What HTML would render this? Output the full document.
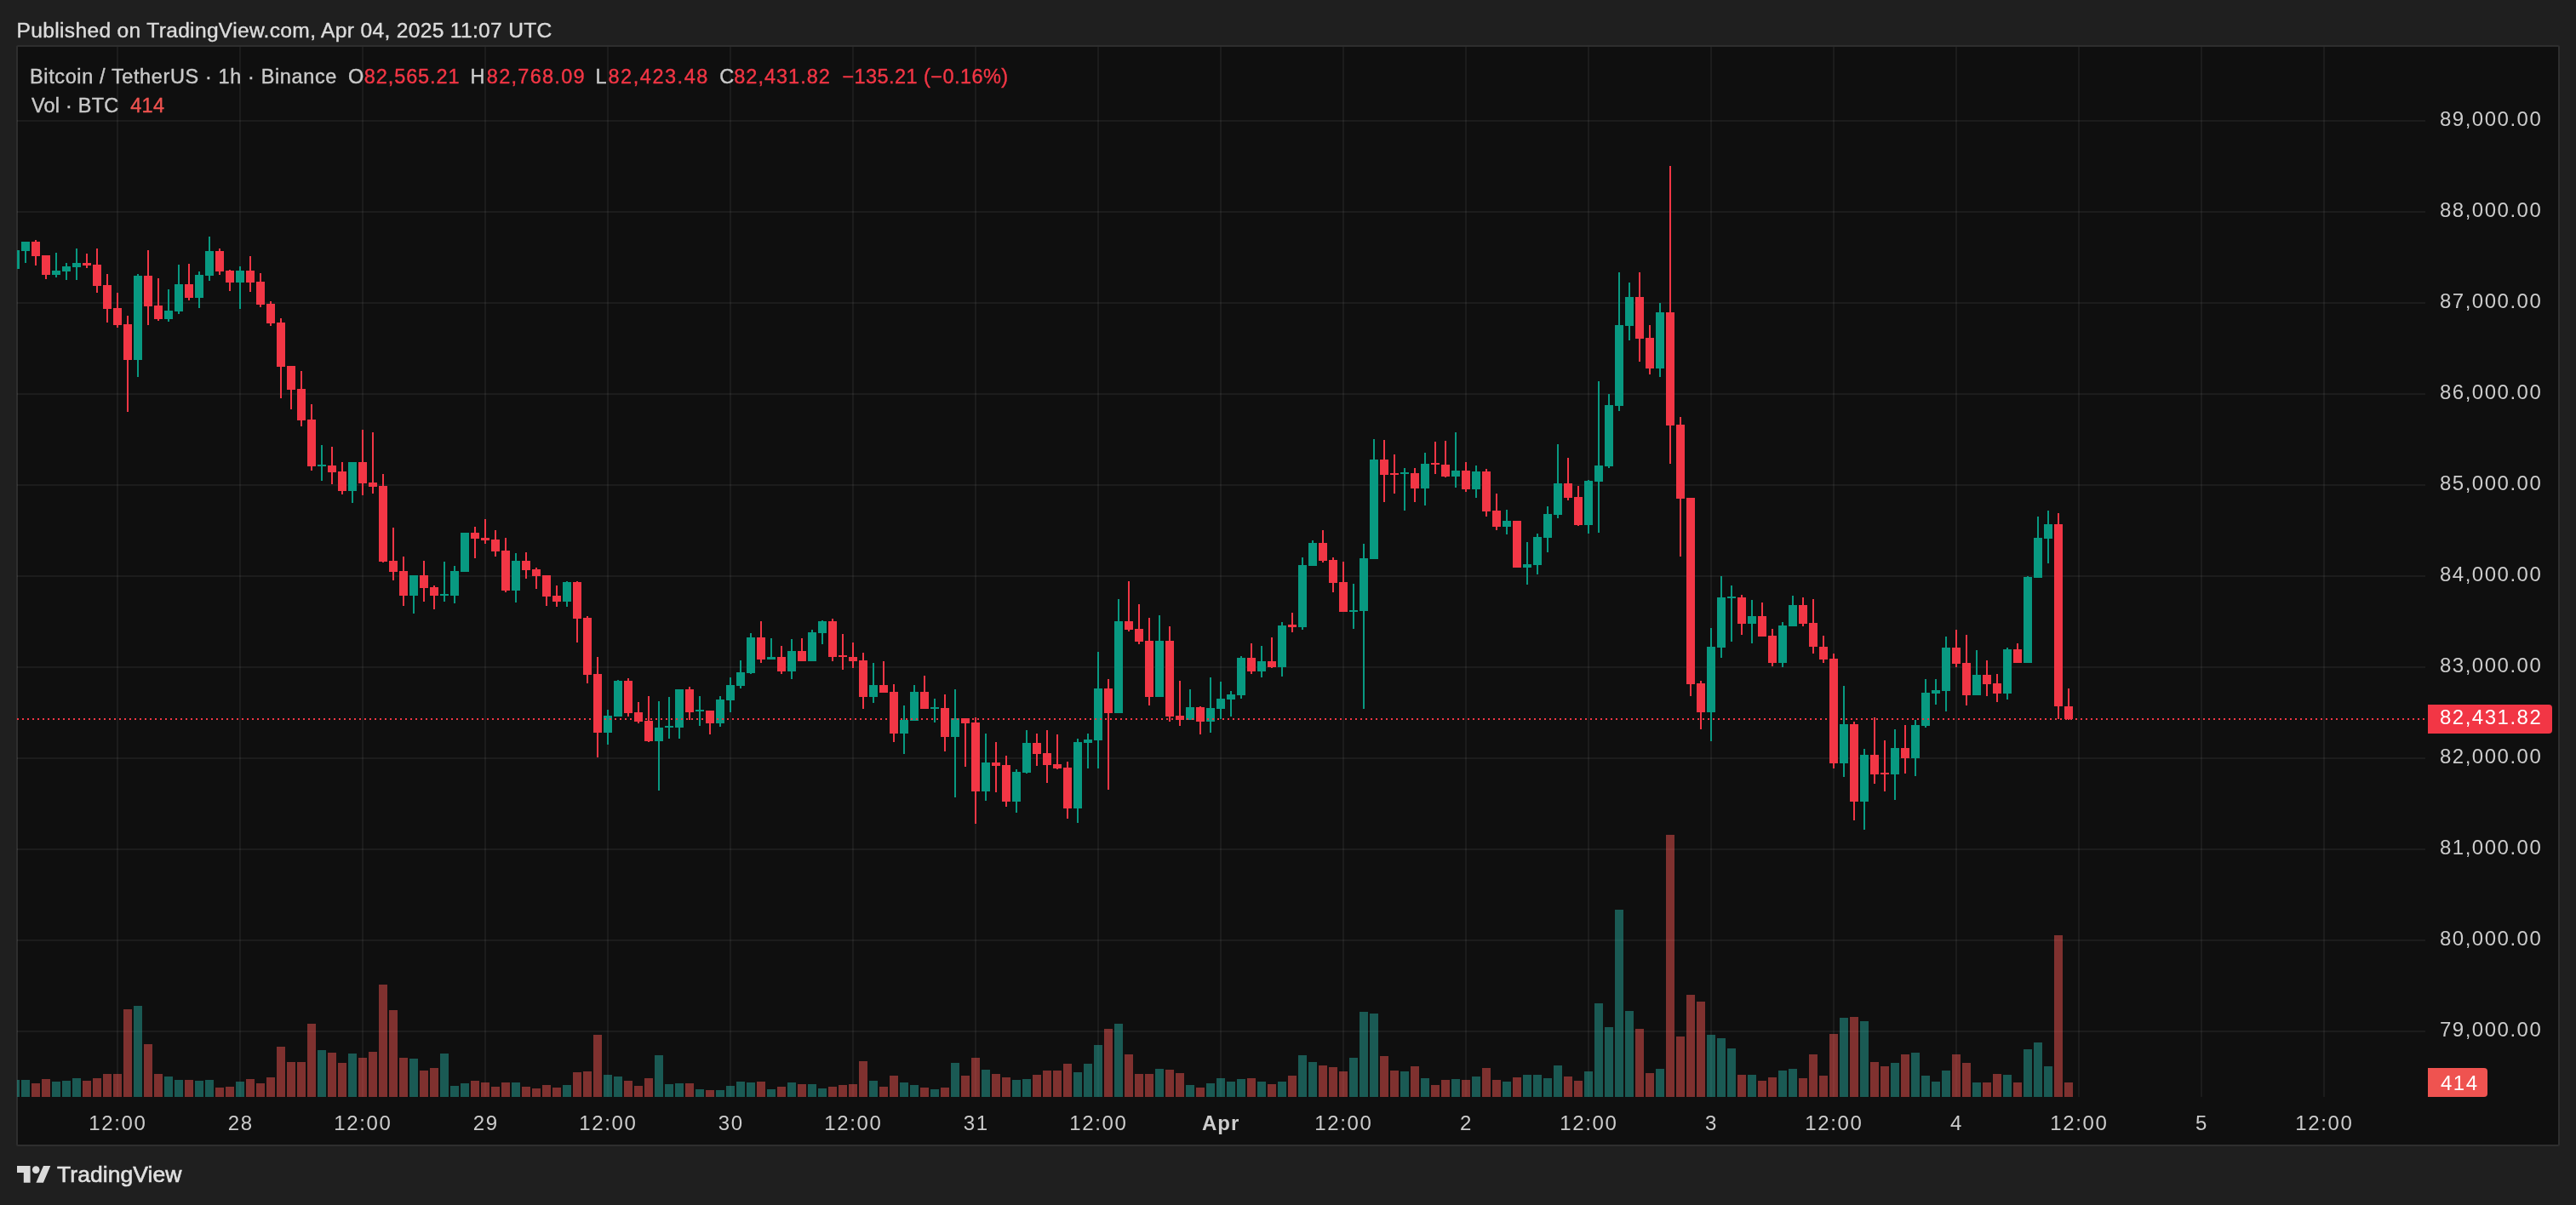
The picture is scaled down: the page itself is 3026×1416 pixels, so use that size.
<!DOCTYPE html>
<html><head><meta charset="utf-8">
<style>
html,body{margin:0;padding:0;}
body{width:3026px;height:1416px;background:#1f1f1f;position:relative;overflow:hidden;font-family:"Liberation Sans",sans-serif;}
.t{position:absolute;white-space:nowrap;}
.tl{position:absolute;left:0;top:0;width:3026px;height:1416px;will-change:transform;}
.frame{position:absolute;left:19px;top:53px;width:2984px;height:1290px;border:2px solid #2e2e2e;background:#0f0f0f;border-radius:2px;}
svg{position:absolute;left:0;top:0;}
.box{position:absolute;border-radius:0 4px 4px 0;}
</style></head><body>
<div class="frame"></div>
<svg width="3026" height="1416" viewBox="0 0 3026 1416" shape-rendering="crispEdges">
<defs><clipPath id="cp"><rect x="20" y="55" width="2829" height="1234"/></clipPath></defs>
<g clip-path="url(#cp)">
<rect x="20" y="141" width="2829" height="2" fill="rgba(242,242,242,0.06)"/>
<rect x="20" y="248" width="2829" height="2" fill="rgba(242,242,242,0.06)"/>
<rect x="20" y="355" width="2829" height="2" fill="rgba(242,242,242,0.06)"/>
<rect x="20" y="462" width="2829" height="2" fill="rgba(242,242,242,0.06)"/>
<rect x="20" y="569" width="2829" height="2" fill="rgba(242,242,242,0.06)"/>
<rect x="20" y="676" width="2829" height="2" fill="rgba(242,242,242,0.06)"/>
<rect x="20" y="783" width="2829" height="2" fill="rgba(242,242,242,0.06)"/>
<rect x="20" y="890" width="2829" height="2" fill="rgba(242,242,242,0.06)"/>
<rect x="20" y="997" width="2829" height="2" fill="rgba(242,242,242,0.06)"/>
<rect x="20" y="1104" width="2829" height="2" fill="rgba(242,242,242,0.06)"/>
<rect x="20" y="1211" width="2829" height="2" fill="rgba(242,242,242,0.06)"/>
<rect x="137" y="55" width="2" height="1234" fill="rgba(242,242,242,0.06)"/>
<rect x="281" y="55" width="2" height="1234" fill="rgba(242,242,242,0.06)"/>
<rect x="425" y="55" width="2" height="1234" fill="rgba(242,242,242,0.06)"/>
<rect x="569" y="55" width="2" height="1234" fill="rgba(242,242,242,0.06)"/>
<rect x="713" y="55" width="2" height="1234" fill="rgba(242,242,242,0.06)"/>
<rect x="857" y="55" width="2" height="1234" fill="rgba(242,242,242,0.06)"/>
<rect x="1001" y="55" width="2" height="1234" fill="rgba(242,242,242,0.06)"/>
<rect x="1145" y="55" width="2" height="1234" fill="rgba(242,242,242,0.06)"/>
<rect x="1289" y="55" width="2" height="1234" fill="rgba(242,242,242,0.06)"/>
<rect x="1433" y="55" width="2" height="1234" fill="rgba(242,242,242,0.06)"/>
<rect x="1577" y="55" width="2" height="1234" fill="rgba(242,242,242,0.06)"/>
<rect x="1721" y="55" width="2" height="1234" fill="rgba(242,242,242,0.06)"/>
<rect x="1865" y="55" width="2" height="1234" fill="rgba(242,242,242,0.06)"/>
<rect x="2009" y="55" width="2" height="1234" fill="rgba(242,242,242,0.06)"/>
<rect x="2153" y="55" width="2" height="1234" fill="rgba(242,242,242,0.06)"/>
<rect x="2297" y="55" width="2" height="1234" fill="rgba(242,242,242,0.06)"/>
<rect x="2441" y="55" width="2" height="1234" fill="rgba(242,242,242,0.06)"/>
<rect x="2585" y="55" width="2" height="1234" fill="rgba(242,242,242,0.06)"/>
<rect x="2729" y="55" width="2" height="1234" fill="rgba(242,242,242,0.06)"/>
<rect x="13" y="1269" width="10" height="20" fill="rgba(38,166,154,0.5)"/>
<rect x="25" y="1269" width="10" height="20" fill="rgba(38,166,154,0.5)"/>
<rect x="37" y="1273" width="10" height="16" fill="rgba(239,83,80,0.5)"/>
<rect x="49" y="1268" width="10" height="21" fill="rgba(239,83,80,0.5)"/>
<rect x="61" y="1271" width="10" height="18" fill="rgba(38,166,154,0.5)"/>
<rect x="73" y="1270" width="10" height="19" fill="rgba(38,166,154,0.5)"/>
<rect x="85" y="1267" width="10" height="22" fill="rgba(38,166,154,0.5)"/>
<rect x="97" y="1270" width="10" height="19" fill="rgba(239,83,80,0.5)"/>
<rect x="109" y="1267" width="10" height="22" fill="rgba(239,83,80,0.5)"/>
<rect x="121" y="1262" width="10" height="27" fill="rgba(239,83,80,0.5)"/>
<rect x="133" y="1262" width="10" height="27" fill="rgba(239,83,80,0.5)"/>
<rect x="145" y="1186" width="10" height="103" fill="rgba(239,83,80,0.5)"/>
<rect x="157" y="1182" width="10" height="107" fill="rgba(38,166,154,0.5)"/>
<rect x="169" y="1227" width="10" height="62" fill="rgba(239,83,80,0.5)"/>
<rect x="181" y="1262" width="10" height="27" fill="rgba(239,83,80,0.5)"/>
<rect x="193" y="1265" width="10" height="24" fill="rgba(38,166,154,0.5)"/>
<rect x="205" y="1269" width="10" height="20" fill="rgba(38,166,154,0.5)"/>
<rect x="217" y="1269" width="10" height="20" fill="rgba(239,83,80,0.5)"/>
<rect x="229" y="1270" width="10" height="19" fill="rgba(38,166,154,0.5)"/>
<rect x="241" y="1269" width="10" height="20" fill="rgba(38,166,154,0.5)"/>
<rect x="253" y="1278" width="10" height="11" fill="rgba(239,83,80,0.5)"/>
<rect x="265" y="1277" width="10" height="12" fill="rgba(239,83,80,0.5)"/>
<rect x="277" y="1271" width="10" height="18" fill="rgba(38,166,154,0.5)"/>
<rect x="289" y="1268" width="10" height="21" fill="rgba(239,83,80,0.5)"/>
<rect x="301" y="1273" width="10" height="16" fill="rgba(239,83,80,0.5)"/>
<rect x="313" y="1266" width="10" height="23" fill="rgba(239,83,80,0.5)"/>
<rect x="325" y="1230" width="10" height="59" fill="rgba(239,83,80,0.5)"/>
<rect x="337" y="1248" width="10" height="41" fill="rgba(239,83,80,0.5)"/>
<rect x="349" y="1248" width="10" height="41" fill="rgba(239,83,80,0.5)"/>
<rect x="361" y="1203" width="10" height="86" fill="rgba(239,83,80,0.5)"/>
<rect x="373" y="1234" width="10" height="55" fill="rgba(38,166,154,0.5)"/>
<rect x="385" y="1237" width="10" height="52" fill="rgba(239,83,80,0.5)"/>
<rect x="397" y="1249" width="10" height="40" fill="rgba(239,83,80,0.5)"/>
<rect x="409" y="1238" width="10" height="51" fill="rgba(38,166,154,0.5)"/>
<rect x="421" y="1243" width="10" height="46" fill="rgba(239,83,80,0.5)"/>
<rect x="433" y="1236" width="10" height="53" fill="rgba(239,83,80,0.5)"/>
<rect x="445" y="1157" width="10" height="132" fill="rgba(239,83,80,0.5)"/>
<rect x="457" y="1187" width="10" height="102" fill="rgba(239,83,80,0.5)"/>
<rect x="469" y="1243" width="10" height="46" fill="rgba(239,83,80,0.5)"/>
<rect x="481" y="1244" width="10" height="45" fill="rgba(38,166,154,0.5)"/>
<rect x="493" y="1258" width="10" height="31" fill="rgba(239,83,80,0.5)"/>
<rect x="505" y="1255" width="10" height="34" fill="rgba(239,83,80,0.5)"/>
<rect x="517" y="1238" width="10" height="51" fill="rgba(38,166,154,0.5)"/>
<rect x="529" y="1276" width="10" height="13" fill="rgba(38,166,154,0.5)"/>
<rect x="541" y="1273" width="10" height="16" fill="rgba(38,166,154,0.5)"/>
<rect x="553" y="1270" width="10" height="19" fill="rgba(239,83,80,0.5)"/>
<rect x="565" y="1272" width="10" height="17" fill="rgba(239,83,80,0.5)"/>
<rect x="577" y="1277" width="10" height="12" fill="rgba(239,83,80,0.5)"/>
<rect x="589" y="1272" width="10" height="17" fill="rgba(239,83,80,0.5)"/>
<rect x="601" y="1272" width="10" height="17" fill="rgba(38,166,154,0.5)"/>
<rect x="613" y="1277" width="10" height="12" fill="rgba(239,83,80,0.5)"/>
<rect x="625" y="1279" width="10" height="10" fill="rgba(239,83,80,0.5)"/>
<rect x="637" y="1275" width="10" height="14" fill="rgba(239,83,80,0.5)"/>
<rect x="649" y="1278" width="10" height="11" fill="rgba(239,83,80,0.5)"/>
<rect x="661" y="1275" width="10" height="14" fill="rgba(38,166,154,0.5)"/>
<rect x="673" y="1260" width="10" height="29" fill="rgba(239,83,80,0.5)"/>
<rect x="685" y="1259" width="10" height="30" fill="rgba(239,83,80,0.5)"/>
<rect x="697" y="1216" width="10" height="73" fill="rgba(239,83,80,0.5)"/>
<rect x="709" y="1263" width="10" height="26" fill="rgba(38,166,154,0.5)"/>
<rect x="721" y="1265" width="10" height="24" fill="rgba(38,166,154,0.5)"/>
<rect x="733" y="1270" width="10" height="19" fill="rgba(239,83,80,0.5)"/>
<rect x="745" y="1276" width="10" height="13" fill="rgba(239,83,80,0.5)"/>
<rect x="757" y="1267" width="10" height="22" fill="rgba(239,83,80,0.5)"/>
<rect x="769" y="1240" width="10" height="49" fill="rgba(38,166,154,0.5)"/>
<rect x="781" y="1274" width="10" height="15" fill="rgba(38,166,154,0.5)"/>
<rect x="793" y="1273" width="10" height="16" fill="rgba(38,166,154,0.5)"/>
<rect x="805" y="1273" width="10" height="16" fill="rgba(239,83,80,0.5)"/>
<rect x="817" y="1280" width="10" height="9" fill="rgba(38,166,154,0.5)"/>
<rect x="829" y="1281" width="10" height="8" fill="rgba(239,83,80,0.5)"/>
<rect x="841" y="1281" width="10" height="8" fill="rgba(38,166,154,0.5)"/>
<rect x="853" y="1276" width="10" height="13" fill="rgba(38,166,154,0.5)"/>
<rect x="865" y="1271" width="10" height="18" fill="rgba(38,166,154,0.5)"/>
<rect x="877" y="1272" width="10" height="17" fill="rgba(38,166,154,0.5)"/>
<rect x="889" y="1271" width="10" height="18" fill="rgba(239,83,80,0.5)"/>
<rect x="901" y="1280" width="10" height="9" fill="rgba(38,166,154,0.5)"/>
<rect x="913" y="1277" width="10" height="12" fill="rgba(239,83,80,0.5)"/>
<rect x="925" y="1272" width="10" height="17" fill="rgba(38,166,154,0.5)"/>
<rect x="937" y="1274" width="10" height="15" fill="rgba(239,83,80,0.5)"/>
<rect x="949" y="1274" width="10" height="15" fill="rgba(38,166,154,0.5)"/>
<rect x="961" y="1279" width="10" height="10" fill="rgba(38,166,154,0.5)"/>
<rect x="973" y="1277" width="10" height="12" fill="rgba(239,83,80,0.5)"/>
<rect x="985" y="1275" width="10" height="14" fill="rgba(239,83,80,0.5)"/>
<rect x="997" y="1274" width="10" height="15" fill="rgba(239,83,80,0.5)"/>
<rect x="1009" y="1247" width="10" height="42" fill="rgba(239,83,80,0.5)"/>
<rect x="1021" y="1270" width="10" height="19" fill="rgba(38,166,154,0.5)"/>
<rect x="1033" y="1277" width="10" height="12" fill="rgba(239,83,80,0.5)"/>
<rect x="1045" y="1264" width="10" height="25" fill="rgba(239,83,80,0.5)"/>
<rect x="1057" y="1272" width="10" height="17" fill="rgba(38,166,154,0.5)"/>
<rect x="1069" y="1275" width="10" height="14" fill="rgba(38,166,154,0.5)"/>
<rect x="1081" y="1278" width="10" height="11" fill="rgba(239,83,80,0.5)"/>
<rect x="1093" y="1280" width="10" height="9" fill="rgba(38,166,154,0.5)"/>
<rect x="1105" y="1278" width="10" height="11" fill="rgba(239,83,80,0.5)"/>
<rect x="1117" y="1249" width="10" height="40" fill="rgba(38,166,154,0.5)"/>
<rect x="1129" y="1264" width="10" height="25" fill="rgba(239,83,80,0.5)"/>
<rect x="1141" y="1243" width="10" height="46" fill="rgba(239,83,80,0.5)"/>
<rect x="1153" y="1257" width="10" height="32" fill="rgba(38,166,154,0.5)"/>
<rect x="1165" y="1262" width="10" height="27" fill="rgba(239,83,80,0.5)"/>
<rect x="1177" y="1266" width="10" height="23" fill="rgba(239,83,80,0.5)"/>
<rect x="1189" y="1269" width="10" height="20" fill="rgba(38,166,154,0.5)"/>
<rect x="1201" y="1268" width="10" height="21" fill="rgba(38,166,154,0.5)"/>
<rect x="1213" y="1263" width="10" height="26" fill="rgba(239,83,80,0.5)"/>
<rect x="1225" y="1258" width="10" height="31" fill="rgba(239,83,80,0.5)"/>
<rect x="1237" y="1258" width="10" height="31" fill="rgba(239,83,80,0.5)"/>
<rect x="1249" y="1250" width="10" height="39" fill="rgba(239,83,80,0.5)"/>
<rect x="1261" y="1260" width="10" height="29" fill="rgba(38,166,154,0.5)"/>
<rect x="1273" y="1250" width="10" height="39" fill="rgba(38,166,154,0.5)"/>
<rect x="1285" y="1228" width="10" height="61" fill="rgba(38,166,154,0.5)"/>
<rect x="1297" y="1209" width="10" height="80" fill="rgba(239,83,80,0.5)"/>
<rect x="1309" y="1203" width="10" height="86" fill="rgba(38,166,154,0.5)"/>
<rect x="1321" y="1239" width="10" height="50" fill="rgba(239,83,80,0.5)"/>
<rect x="1333" y="1262" width="10" height="27" fill="rgba(239,83,80,0.5)"/>
<rect x="1345" y="1262" width="10" height="27" fill="rgba(239,83,80,0.5)"/>
<rect x="1357" y="1256" width="10" height="33" fill="rgba(38,166,154,0.5)"/>
<rect x="1369" y="1257" width="10" height="32" fill="rgba(239,83,80,0.5)"/>
<rect x="1381" y="1261" width="10" height="28" fill="rgba(239,83,80,0.5)"/>
<rect x="1393" y="1275" width="10" height="14" fill="rgba(38,166,154,0.5)"/>
<rect x="1405" y="1278" width="10" height="11" fill="rgba(239,83,80,0.5)"/>
<rect x="1417" y="1273" width="10" height="16" fill="rgba(38,166,154,0.5)"/>
<rect x="1429" y="1267" width="10" height="22" fill="rgba(38,166,154,0.5)"/>
<rect x="1441" y="1271" width="10" height="18" fill="rgba(38,166,154,0.5)"/>
<rect x="1453" y="1268" width="10" height="21" fill="rgba(38,166,154,0.5)"/>
<rect x="1465" y="1267" width="10" height="22" fill="rgba(239,83,80,0.5)"/>
<rect x="1477" y="1271" width="10" height="18" fill="rgba(38,166,154,0.5)"/>
<rect x="1489" y="1274" width="10" height="15" fill="rgba(239,83,80,0.5)"/>
<rect x="1501" y="1271" width="10" height="18" fill="rgba(38,166,154,0.5)"/>
<rect x="1513" y="1264" width="10" height="25" fill="rgba(239,83,80,0.5)"/>
<rect x="1525" y="1240" width="10" height="49" fill="rgba(38,166,154,0.5)"/>
<rect x="1537" y="1248" width="10" height="41" fill="rgba(38,166,154,0.5)"/>
<rect x="1549" y="1252" width="10" height="37" fill="rgba(239,83,80,0.5)"/>
<rect x="1561" y="1254" width="10" height="35" fill="rgba(239,83,80,0.5)"/>
<rect x="1573" y="1259" width="10" height="30" fill="rgba(239,83,80,0.5)"/>
<rect x="1585" y="1243" width="10" height="46" fill="rgba(38,166,154,0.5)"/>
<rect x="1597" y="1189" width="10" height="100" fill="rgba(38,166,154,0.5)"/>
<rect x="1609" y="1191" width="10" height="98" fill="rgba(38,166,154,0.5)"/>
<rect x="1621" y="1241" width="10" height="48" fill="rgba(239,83,80,0.5)"/>
<rect x="1633" y="1258" width="10" height="31" fill="rgba(239,83,80,0.5)"/>
<rect x="1645" y="1259" width="10" height="30" fill="rgba(38,166,154,0.5)"/>
<rect x="1657" y="1253" width="10" height="36" fill="rgba(239,83,80,0.5)"/>
<rect x="1669" y="1267" width="10" height="22" fill="rgba(38,166,154,0.5)"/>
<rect x="1681" y="1275" width="10" height="14" fill="rgba(239,83,80,0.5)"/>
<rect x="1693" y="1269" width="10" height="20" fill="rgba(239,83,80,0.5)"/>
<rect x="1705" y="1268" width="10" height="21" fill="rgba(38,166,154,0.5)"/>
<rect x="1717" y="1269" width="10" height="20" fill="rgba(239,83,80,0.5)"/>
<rect x="1729" y="1265" width="10" height="24" fill="rgba(38,166,154,0.5)"/>
<rect x="1741" y="1255" width="10" height="34" fill="rgba(239,83,80,0.5)"/>
<rect x="1753" y="1269" width="10" height="20" fill="rgba(239,83,80,0.5)"/>
<rect x="1765" y="1271" width="10" height="18" fill="rgba(38,166,154,0.5)"/>
<rect x="1777" y="1266" width="10" height="23" fill="rgba(239,83,80,0.5)"/>
<rect x="1789" y="1263" width="10" height="26" fill="rgba(38,166,154,0.5)"/>
<rect x="1801" y="1263" width="10" height="26" fill="rgba(38,166,154,0.5)"/>
<rect x="1813" y="1267" width="10" height="22" fill="rgba(38,166,154,0.5)"/>
<rect x="1825" y="1252" width="10" height="37" fill="rgba(38,166,154,0.5)"/>
<rect x="1837" y="1265" width="10" height="24" fill="rgba(239,83,80,0.5)"/>
<rect x="1849" y="1270" width="10" height="19" fill="rgba(239,83,80,0.5)"/>
<rect x="1861" y="1259" width="10" height="30" fill="rgba(38,166,154,0.5)"/>
<rect x="1873" y="1179" width="10" height="110" fill="rgba(38,166,154,0.5)"/>
<rect x="1885" y="1207" width="10" height="82" fill="rgba(38,166,154,0.5)"/>
<rect x="1897" y="1069" width="10" height="220" fill="rgba(38,166,154,0.5)"/>
<rect x="1909" y="1188" width="10" height="101" fill="rgba(38,166,154,0.5)"/>
<rect x="1921" y="1209" width="10" height="80" fill="rgba(239,83,80,0.5)"/>
<rect x="1933" y="1261" width="10" height="28" fill="rgba(239,83,80,0.5)"/>
<rect x="1945" y="1256" width="10" height="33" fill="rgba(38,166,154,0.5)"/>
<rect x="1957" y="981" width="10" height="308" fill="rgba(239,83,80,0.5)"/>
<rect x="1969" y="1218" width="10" height="71" fill="rgba(239,83,80,0.5)"/>
<rect x="1981" y="1169" width="10" height="120" fill="rgba(239,83,80,0.5)"/>
<rect x="1993" y="1177" width="10" height="112" fill="rgba(239,83,80,0.5)"/>
<rect x="2005" y="1216" width="10" height="73" fill="rgba(38,166,154,0.5)"/>
<rect x="2017" y="1220" width="10" height="69" fill="rgba(38,166,154,0.5)"/>
<rect x="2029" y="1232" width="10" height="57" fill="rgba(38,166,154,0.5)"/>
<rect x="2041" y="1263" width="10" height="26" fill="rgba(239,83,80,0.5)"/>
<rect x="2053" y="1263" width="10" height="26" fill="rgba(38,166,154,0.5)"/>
<rect x="2065" y="1270" width="10" height="19" fill="rgba(239,83,80,0.5)"/>
<rect x="2077" y="1266" width="10" height="23" fill="rgba(239,83,80,0.5)"/>
<rect x="2089" y="1258" width="10" height="31" fill="rgba(38,166,154,0.5)"/>
<rect x="2101" y="1256" width="10" height="33" fill="rgba(38,166,154,0.5)"/>
<rect x="2113" y="1267" width="10" height="22" fill="rgba(239,83,80,0.5)"/>
<rect x="2125" y="1239" width="10" height="50" fill="rgba(239,83,80,0.5)"/>
<rect x="2137" y="1264" width="10" height="25" fill="rgba(239,83,80,0.5)"/>
<rect x="2149" y="1215" width="10" height="74" fill="rgba(239,83,80,0.5)"/>
<rect x="2161" y="1196" width="10" height="93" fill="rgba(38,166,154,0.5)"/>
<rect x="2173" y="1195" width="10" height="94" fill="rgba(239,83,80,0.5)"/>
<rect x="2185" y="1200" width="10" height="89" fill="rgba(38,166,154,0.5)"/>
<rect x="2197" y="1248" width="10" height="41" fill="rgba(239,83,80,0.5)"/>
<rect x="2209" y="1253" width="10" height="36" fill="rgba(239,83,80,0.5)"/>
<rect x="2221" y="1249" width="10" height="40" fill="rgba(38,166,154,0.5)"/>
<rect x="2233" y="1239" width="10" height="50" fill="rgba(239,83,80,0.5)"/>
<rect x="2245" y="1237" width="10" height="52" fill="rgba(38,166,154,0.5)"/>
<rect x="2257" y="1264" width="10" height="25" fill="rgba(38,166,154,0.5)"/>
<rect x="2269" y="1271" width="10" height="18" fill="rgba(38,166,154,0.5)"/>
<rect x="2281" y="1258" width="10" height="31" fill="rgba(38,166,154,0.5)"/>
<rect x="2293" y="1239" width="10" height="50" fill="rgba(239,83,80,0.5)"/>
<rect x="2305" y="1249" width="10" height="40" fill="rgba(239,83,80,0.5)"/>
<rect x="2317" y="1272" width="10" height="17" fill="rgba(38,166,154,0.5)"/>
<rect x="2329" y="1272" width="10" height="17" fill="rgba(239,83,80,0.5)"/>
<rect x="2341" y="1262" width="10" height="27" fill="rgba(239,83,80,0.5)"/>
<rect x="2353" y="1263" width="10" height="26" fill="rgba(38,166,154,0.5)"/>
<rect x="2365" y="1272" width="10" height="17" fill="rgba(239,83,80,0.5)"/>
<rect x="2377" y="1233" width="10" height="56" fill="rgba(38,166,154,0.5)"/>
<rect x="2389" y="1225" width="10" height="64" fill="rgba(38,166,154,0.5)"/>
<rect x="2401" y="1253" width="10" height="36" fill="rgba(38,166,154,0.5)"/>
<rect x="2413" y="1099" width="10" height="190" fill="rgba(239,83,80,0.5)"/>
<rect x="2425" y="1272" width="10" height="17" fill="rgba(239,83,80,0.5)"/>
<rect x="17" y="294" width="2" height="22" fill="#089981"/>
<rect x="13" y="294" width="10" height="22" fill="#089981"/>
<rect x="29" y="284" width="2" height="25" fill="#089981"/>
<rect x="25" y="284" width="10" height="11" fill="#089981"/>
<rect x="41" y="282" width="2" height="30" fill="#f23645"/>
<rect x="37" y="284" width="10" height="17" fill="#f23645"/>
<rect x="53" y="300" width="2" height="28" fill="#f23645"/>
<rect x="49" y="300" width="10" height="23" fill="#f23645"/>
<rect x="65" y="297" width="2" height="29" fill="#089981"/>
<rect x="61" y="318" width="10" height="5" fill="#089981"/>
<rect x="77" y="309" width="2" height="20" fill="#089981"/>
<rect x="73" y="313" width="10" height="6" fill="#089981"/>
<rect x="89" y="292" width="2" height="37" fill="#089981"/>
<rect x="85" y="309" width="10" height="5" fill="#089981"/>
<rect x="101" y="298" width="2" height="17" fill="#f23645"/>
<rect x="97" y="309" width="10" height="3" fill="#f23645"/>
<rect x="113" y="292" width="2" height="52" fill="#f23645"/>
<rect x="109" y="311" width="10" height="25" fill="#f23645"/>
<rect x="125" y="322" width="2" height="57" fill="#f23645"/>
<rect x="121" y="335" width="10" height="28" fill="#f23645"/>
<rect x="137" y="344" width="2" height="41" fill="#f23645"/>
<rect x="133" y="362" width="10" height="20" fill="#f23645"/>
<rect x="149" y="371" width="2" height="113" fill="#f23645"/>
<rect x="145" y="381" width="10" height="42" fill="#f23645"/>
<rect x="161" y="322" width="2" height="121" fill="#089981"/>
<rect x="157" y="324" width="10" height="99" fill="#089981"/>
<rect x="173" y="294" width="2" height="88" fill="#f23645"/>
<rect x="169" y="324" width="10" height="36" fill="#f23645"/>
<rect x="185" y="327" width="2" height="50" fill="#f23645"/>
<rect x="181" y="359" width="10" height="16" fill="#f23645"/>
<rect x="197" y="340" width="2" height="38" fill="#089981"/>
<rect x="193" y="365" width="10" height="10" fill="#089981"/>
<rect x="209" y="311" width="2" height="58" fill="#089981"/>
<rect x="205" y="334" width="10" height="32" fill="#089981"/>
<rect x="221" y="310" width="2" height="43" fill="#f23645"/>
<rect x="217" y="334" width="10" height="16" fill="#f23645"/>
<rect x="233" y="319" width="2" height="43" fill="#089981"/>
<rect x="229" y="323" width="10" height="27" fill="#089981"/>
<rect x="245" y="278" width="2" height="52" fill="#089981"/>
<rect x="241" y="295" width="10" height="29" fill="#089981"/>
<rect x="257" y="292" width="2" height="31" fill="#f23645"/>
<rect x="253" y="295" width="10" height="24" fill="#f23645"/>
<rect x="269" y="317" width="2" height="25" fill="#f23645"/>
<rect x="265" y="318" width="10" height="14" fill="#f23645"/>
<rect x="281" y="313" width="2" height="50" fill="#089981"/>
<rect x="277" y="318" width="10" height="14" fill="#089981"/>
<rect x="293" y="301" width="2" height="42" fill="#f23645"/>
<rect x="289" y="318" width="10" height="14" fill="#f23645"/>
<rect x="305" y="321" width="2" height="40" fill="#f23645"/>
<rect x="301" y="331" width="10" height="27" fill="#f23645"/>
<rect x="317" y="354" width="2" height="29" fill="#f23645"/>
<rect x="313" y="357" width="10" height="23" fill="#f23645"/>
<rect x="329" y="374" width="2" height="94" fill="#f23645"/>
<rect x="325" y="379" width="10" height="52" fill="#f23645"/>
<rect x="341" y="430" width="2" height="51" fill="#f23645"/>
<rect x="337" y="430" width="10" height="28" fill="#f23645"/>
<rect x="353" y="436" width="2" height="65" fill="#f23645"/>
<rect x="349" y="457" width="10" height="37" fill="#f23645"/>
<rect x="365" y="475" width="2" height="78" fill="#f23645"/>
<rect x="361" y="493" width="10" height="55" fill="#f23645"/>
<rect x="377" y="523" width="2" height="42" fill="#089981"/>
<rect x="373" y="546" width="10" height="2" fill="#089981"/>
<rect x="389" y="525" width="2" height="44" fill="#f23645"/>
<rect x="385" y="547" width="10" height="8" fill="#f23645"/>
<rect x="401" y="543" width="2" height="38" fill="#f23645"/>
<rect x="397" y="554" width="10" height="23" fill="#f23645"/>
<rect x="413" y="543" width="2" height="48" fill="#089981"/>
<rect x="409" y="543" width="10" height="34" fill="#089981"/>
<rect x="425" y="505" width="2" height="77" fill="#f23645"/>
<rect x="421" y="543" width="10" height="25" fill="#f23645"/>
<rect x="437" y="508" width="2" height="72" fill="#f23645"/>
<rect x="433" y="567" width="10" height="5" fill="#f23645"/>
<rect x="449" y="557" width="2" height="104" fill="#f23645"/>
<rect x="445" y="571" width="10" height="89" fill="#f23645"/>
<rect x="461" y="620" width="2" height="62" fill="#f23645"/>
<rect x="457" y="659" width="10" height="13" fill="#f23645"/>
<rect x="473" y="654" width="2" height="58" fill="#f23645"/>
<rect x="469" y="671" width="10" height="29" fill="#f23645"/>
<rect x="485" y="676" width="2" height="45" fill="#089981"/>
<rect x="481" y="676" width="10" height="24" fill="#089981"/>
<rect x="497" y="659" width="2" height="48" fill="#f23645"/>
<rect x="493" y="676" width="10" height="15" fill="#f23645"/>
<rect x="509" y="688" width="2" height="28" fill="#f23645"/>
<rect x="505" y="690" width="10" height="10" fill="#f23645"/>
<rect x="521" y="660" width="2" height="47" fill="#089981"/>
<rect x="517" y="698" width="10" height="2" fill="#089981"/>
<rect x="533" y="665" width="2" height="44" fill="#089981"/>
<rect x="529" y="671" width="10" height="29" fill="#089981"/>
<rect x="545" y="626" width="2" height="46" fill="#089981"/>
<rect x="541" y="626" width="10" height="46" fill="#089981"/>
<rect x="557" y="619" width="2" height="37" fill="#f23645"/>
<rect x="553" y="626" width="10" height="7" fill="#f23645"/>
<rect x="569" y="610" width="2" height="29" fill="#f23645"/>
<rect x="565" y="632" width="10" height="3" fill="#f23645"/>
<rect x="581" y="623" width="2" height="31" fill="#f23645"/>
<rect x="577" y="634" width="10" height="14" fill="#f23645"/>
<rect x="593" y="632" width="2" height="64" fill="#f23645"/>
<rect x="589" y="647" width="10" height="47" fill="#f23645"/>
<rect x="605" y="650" width="2" height="58" fill="#089981"/>
<rect x="601" y="659" width="10" height="35" fill="#089981"/>
<rect x="617" y="649" width="2" height="31" fill="#f23645"/>
<rect x="613" y="659" width="10" height="11" fill="#f23645"/>
<rect x="629" y="667" width="2" height="25" fill="#f23645"/>
<rect x="625" y="669" width="10" height="8" fill="#f23645"/>
<rect x="641" y="676" width="2" height="36" fill="#f23645"/>
<rect x="637" y="676" width="10" height="25" fill="#f23645"/>
<rect x="653" y="688" width="2" height="25" fill="#f23645"/>
<rect x="649" y="700" width="10" height="7" fill="#f23645"/>
<rect x="665" y="683" width="2" height="30" fill="#089981"/>
<rect x="661" y="684" width="10" height="23" fill="#089981"/>
<rect x="677" y="683" width="2" height="72" fill="#f23645"/>
<rect x="673" y="684" width="10" height="43" fill="#f23645"/>
<rect x="689" y="724" width="2" height="79" fill="#f23645"/>
<rect x="685" y="726" width="10" height="67" fill="#f23645"/>
<rect x="701" y="772" width="2" height="118" fill="#f23645"/>
<rect x="697" y="792" width="10" height="69" fill="#f23645"/>
<rect x="713" y="834" width="2" height="41" fill="#089981"/>
<rect x="709" y="841" width="10" height="20" fill="#089981"/>
<rect x="725" y="799" width="2" height="43" fill="#089981"/>
<rect x="721" y="800" width="10" height="42" fill="#089981"/>
<rect x="737" y="797" width="2" height="45" fill="#f23645"/>
<rect x="733" y="800" width="10" height="38" fill="#f23645"/>
<rect x="749" y="825" width="2" height="25" fill="#f23645"/>
<rect x="745" y="837" width="10" height="11" fill="#f23645"/>
<rect x="761" y="818" width="2" height="54" fill="#f23645"/>
<rect x="757" y="847" width="10" height="24" fill="#f23645"/>
<rect x="773" y="824" width="2" height="105" fill="#089981"/>
<rect x="769" y="855" width="10" height="16" fill="#089981"/>
<rect x="785" y="819" width="2" height="49" fill="#089981"/>
<rect x="781" y="853" width="10" height="2" fill="#089981"/>
<rect x="797" y="810" width="2" height="58" fill="#089981"/>
<rect x="793" y="810" width="10" height="45" fill="#089981"/>
<rect x="809" y="807" width="2" height="39" fill="#f23645"/>
<rect x="805" y="810" width="10" height="27" fill="#f23645"/>
<rect x="821" y="818" width="2" height="35" fill="#089981"/>
<rect x="817" y="834" width="10" height="2" fill="#089981"/>
<rect x="833" y="835" width="2" height="28" fill="#f23645"/>
<rect x="829" y="835" width="10" height="15" fill="#f23645"/>
<rect x="845" y="818" width="2" height="36" fill="#089981"/>
<rect x="841" y="822" width="10" height="28" fill="#089981"/>
<rect x="857" y="796" width="2" height="41" fill="#089981"/>
<rect x="853" y="805" width="10" height="18" fill="#089981"/>
<rect x="869" y="776" width="2" height="33" fill="#089981"/>
<rect x="865" y="790" width="10" height="16" fill="#089981"/>
<rect x="881" y="744" width="2" height="48" fill="#089981"/>
<rect x="877" y="749" width="10" height="42" fill="#089981"/>
<rect x="893" y="730" width="2" height="49" fill="#f23645"/>
<rect x="889" y="749" width="10" height="26" fill="#f23645"/>
<rect x="905" y="750" width="2" height="25" fill="#089981"/>
<rect x="901" y="772" width="10" height="3" fill="#089981"/>
<rect x="917" y="759" width="2" height="33" fill="#f23645"/>
<rect x="913" y="772" width="10" height="17" fill="#f23645"/>
<rect x="929" y="751" width="2" height="47" fill="#089981"/>
<rect x="925" y="765" width="10" height="24" fill="#089981"/>
<rect x="941" y="750" width="2" height="27" fill="#f23645"/>
<rect x="937" y="765" width="10" height="12" fill="#f23645"/>
<rect x="953" y="740" width="2" height="37" fill="#089981"/>
<rect x="949" y="743" width="10" height="34" fill="#089981"/>
<rect x="965" y="729" width="2" height="28" fill="#089981"/>
<rect x="961" y="730" width="10" height="14" fill="#089981"/>
<rect x="977" y="727" width="2" height="50" fill="#f23645"/>
<rect x="973" y="730" width="10" height="42" fill="#f23645"/>
<rect x="989" y="745" width="2" height="42" fill="#f23645"/>
<rect x="985" y="770" width="10" height="2" fill="#f23645"/>
<rect x="1001" y="755" width="2" height="30" fill="#f23645"/>
<rect x="997" y="772" width="10" height="5" fill="#f23645"/>
<rect x="1013" y="767" width="2" height="66" fill="#f23645"/>
<rect x="1009" y="776" width="10" height="43" fill="#f23645"/>
<rect x="1025" y="779" width="2" height="47" fill="#089981"/>
<rect x="1021" y="805" width="10" height="14" fill="#089981"/>
<rect x="1037" y="777" width="2" height="37" fill="#f23645"/>
<rect x="1033" y="805" width="10" height="9" fill="#f23645"/>
<rect x="1049" y="804" width="2" height="68" fill="#f23645"/>
<rect x="1045" y="813" width="10" height="49" fill="#f23645"/>
<rect x="1061" y="829" width="2" height="57" fill="#089981"/>
<rect x="1057" y="846" width="10" height="16" fill="#089981"/>
<rect x="1073" y="805" width="2" height="42" fill="#089981"/>
<rect x="1069" y="813" width="10" height="34" fill="#089981"/>
<rect x="1085" y="794" width="2" height="39" fill="#f23645"/>
<rect x="1081" y="813" width="10" height="20" fill="#f23645"/>
<rect x="1097" y="821" width="2" height="28" fill="#089981"/>
<rect x="1093" y="831" width="10" height="2" fill="#089981"/>
<rect x="1109" y="816" width="2" height="67" fill="#f23645"/>
<rect x="1105" y="832" width="10" height="34" fill="#f23645"/>
<rect x="1121" y="810" width="2" height="127" fill="#089981"/>
<rect x="1117" y="844" width="10" height="22" fill="#089981"/>
<rect x="1133" y="844" width="2" height="57" fill="#f23645"/>
<rect x="1129" y="844" width="10" height="6" fill="#f23645"/>
<rect x="1145" y="843" width="2" height="125" fill="#f23645"/>
<rect x="1141" y="849" width="10" height="81" fill="#f23645"/>
<rect x="1157" y="862" width="2" height="79" fill="#089981"/>
<rect x="1153" y="896" width="10" height="34" fill="#089981"/>
<rect x="1169" y="872" width="2" height="59" fill="#f23645"/>
<rect x="1165" y="896" width="10" height="4" fill="#f23645"/>
<rect x="1181" y="888" width="2" height="60" fill="#f23645"/>
<rect x="1177" y="899" width="10" height="43" fill="#f23645"/>
<rect x="1193" y="904" width="2" height="51" fill="#089981"/>
<rect x="1189" y="907" width="10" height="35" fill="#089981"/>
<rect x="1205" y="858" width="2" height="51" fill="#089981"/>
<rect x="1201" y="873" width="10" height="35" fill="#089981"/>
<rect x="1217" y="862" width="2" height="38" fill="#f23645"/>
<rect x="1213" y="873" width="10" height="13" fill="#f23645"/>
<rect x="1229" y="858" width="2" height="62" fill="#f23645"/>
<rect x="1225" y="885" width="10" height="14" fill="#f23645"/>
<rect x="1241" y="863" width="2" height="41" fill="#f23645"/>
<rect x="1237" y="898" width="10" height="5" fill="#f23645"/>
<rect x="1253" y="895" width="2" height="67" fill="#f23645"/>
<rect x="1249" y="902" width="10" height="48" fill="#f23645"/>
<rect x="1265" y="868" width="2" height="99" fill="#089981"/>
<rect x="1261" y="872" width="10" height="78" fill="#089981"/>
<rect x="1277" y="862" width="2" height="41" fill="#089981"/>
<rect x="1273" y="869" width="10" height="4" fill="#089981"/>
<rect x="1289" y="766" width="2" height="137" fill="#089981"/>
<rect x="1285" y="809" width="10" height="61" fill="#089981"/>
<rect x="1301" y="798" width="2" height="130" fill="#f23645"/>
<rect x="1297" y="809" width="10" height="29" fill="#f23645"/>
<rect x="1313" y="704" width="2" height="134" fill="#089981"/>
<rect x="1309" y="730" width="10" height="108" fill="#089981"/>
<rect x="1325" y="683" width="2" height="59" fill="#f23645"/>
<rect x="1321" y="730" width="10" height="10" fill="#f23645"/>
<rect x="1337" y="710" width="2" height="47" fill="#f23645"/>
<rect x="1333" y="739" width="10" height="15" fill="#f23645"/>
<rect x="1349" y="726" width="2" height="103" fill="#f23645"/>
<rect x="1345" y="753" width="10" height="66" fill="#f23645"/>
<rect x="1361" y="723" width="2" height="96" fill="#089981"/>
<rect x="1357" y="753" width="10" height="66" fill="#089981"/>
<rect x="1373" y="736" width="2" height="112" fill="#f23645"/>
<rect x="1369" y="753" width="10" height="89" fill="#f23645"/>
<rect x="1385" y="800" width="2" height="53" fill="#f23645"/>
<rect x="1381" y="841" width="10" height="5" fill="#f23645"/>
<rect x="1397" y="810" width="2" height="36" fill="#089981"/>
<rect x="1393" y="831" width="10" height="15" fill="#089981"/>
<rect x="1409" y="830" width="2" height="33" fill="#f23645"/>
<rect x="1405" y="831" width="10" height="17" fill="#f23645"/>
<rect x="1421" y="796" width="2" height="65" fill="#089981"/>
<rect x="1417" y="832" width="10" height="16" fill="#089981"/>
<rect x="1433" y="801" width="2" height="44" fill="#089981"/>
<rect x="1429" y="821" width="10" height="12" fill="#089981"/>
<rect x="1445" y="812" width="2" height="30" fill="#089981"/>
<rect x="1441" y="816" width="10" height="6" fill="#089981"/>
<rect x="1457" y="771" width="2" height="50" fill="#089981"/>
<rect x="1453" y="773" width="10" height="44" fill="#089981"/>
<rect x="1469" y="756" width="2" height="36" fill="#f23645"/>
<rect x="1465" y="773" width="10" height="16" fill="#f23645"/>
<rect x="1481" y="759" width="2" height="37" fill="#089981"/>
<rect x="1477" y="777" width="10" height="12" fill="#089981"/>
<rect x="1493" y="749" width="2" height="36" fill="#f23645"/>
<rect x="1489" y="777" width="10" height="7" fill="#f23645"/>
<rect x="1505" y="731" width="2" height="64" fill="#089981"/>
<rect x="1501" y="735" width="10" height="49" fill="#089981"/>
<rect x="1517" y="720" width="2" height="23" fill="#f23645"/>
<rect x="1513" y="734" width="10" height="3" fill="#f23645"/>
<rect x="1529" y="655" width="2" height="85" fill="#089981"/>
<rect x="1525" y="664" width="10" height="73" fill="#089981"/>
<rect x="1541" y="635" width="2" height="30" fill="#089981"/>
<rect x="1537" y="638" width="10" height="27" fill="#089981"/>
<rect x="1553" y="623" width="2" height="38" fill="#f23645"/>
<rect x="1549" y="638" width="10" height="21" fill="#f23645"/>
<rect x="1565" y="655" width="2" height="41" fill="#f23645"/>
<rect x="1561" y="658" width="10" height="27" fill="#f23645"/>
<rect x="1577" y="660" width="2" height="59" fill="#f23645"/>
<rect x="1573" y="684" width="10" height="35" fill="#f23645"/>
<rect x="1589" y="686" width="2" height="53" fill="#089981"/>
<rect x="1585" y="717" width="10" height="2" fill="#089981"/>
<rect x="1601" y="639" width="2" height="194" fill="#089981"/>
<rect x="1597" y="656" width="10" height="62" fill="#089981"/>
<rect x="1613" y="516" width="2" height="141" fill="#089981"/>
<rect x="1609" y="540" width="10" height="117" fill="#089981"/>
<rect x="1625" y="517" width="2" height="73" fill="#f23645"/>
<rect x="1621" y="540" width="10" height="18" fill="#f23645"/>
<rect x="1637" y="534" width="2" height="46" fill="#f23645"/>
<rect x="1633" y="556" width="10" height="2" fill="#f23645"/>
<rect x="1649" y="550" width="2" height="50" fill="#089981"/>
<rect x="1645" y="555" width="10" height="2" fill="#089981"/>
<rect x="1661" y="550" width="2" height="40" fill="#f23645"/>
<rect x="1657" y="556" width="10" height="18" fill="#f23645"/>
<rect x="1673" y="532" width="2" height="62" fill="#089981"/>
<rect x="1669" y="545" width="10" height="29" fill="#089981"/>
<rect x="1685" y="519" width="2" height="38" fill="#f23645"/>
<rect x="1681" y="544" width="10" height="2" fill="#f23645"/>
<rect x="1697" y="518" width="2" height="43" fill="#f23645"/>
<rect x="1693" y="546" width="10" height="14" fill="#f23645"/>
<rect x="1709" y="508" width="2" height="65" fill="#089981"/>
<rect x="1705" y="553" width="10" height="7" fill="#089981"/>
<rect x="1721" y="543" width="2" height="35" fill="#f23645"/>
<rect x="1717" y="553" width="10" height="22" fill="#f23645"/>
<rect x="1733" y="547" width="2" height="38" fill="#089981"/>
<rect x="1729" y="554" width="10" height="21" fill="#089981"/>
<rect x="1745" y="551" width="2" height="56" fill="#f23645"/>
<rect x="1741" y="554" width="10" height="47" fill="#f23645"/>
<rect x="1757" y="580" width="2" height="43" fill="#f23645"/>
<rect x="1753" y="600" width="10" height="19" fill="#f23645"/>
<rect x="1769" y="599" width="2" height="29" fill="#089981"/>
<rect x="1765" y="612" width="10" height="7" fill="#089981"/>
<rect x="1781" y="612" width="2" height="55" fill="#f23645"/>
<rect x="1777" y="612" width="10" height="55" fill="#f23645"/>
<rect x="1793" y="637" width="2" height="50" fill="#089981"/>
<rect x="1789" y="663" width="10" height="4" fill="#089981"/>
<rect x="1805" y="627" width="2" height="48" fill="#089981"/>
<rect x="1801" y="631" width="10" height="33" fill="#089981"/>
<rect x="1817" y="595" width="2" height="54" fill="#089981"/>
<rect x="1813" y="604" width="10" height="28" fill="#089981"/>
<rect x="1829" y="522" width="2" height="87" fill="#089981"/>
<rect x="1825" y="568" width="10" height="37" fill="#089981"/>
<rect x="1841" y="538" width="2" height="50" fill="#f23645"/>
<rect x="1837" y="568" width="10" height="17" fill="#f23645"/>
<rect x="1853" y="571" width="2" height="47" fill="#f23645"/>
<rect x="1849" y="584" width="10" height="33" fill="#f23645"/>
<rect x="1865" y="564" width="2" height="63" fill="#089981"/>
<rect x="1861" y="565" width="10" height="52" fill="#089981"/>
<rect x="1877" y="448" width="2" height="178" fill="#089981"/>
<rect x="1873" y="547" width="10" height="19" fill="#089981"/>
<rect x="1889" y="463" width="2" height="87" fill="#089981"/>
<rect x="1885" y="476" width="10" height="72" fill="#089981"/>
<rect x="1901" y="320" width="2" height="163" fill="#089981"/>
<rect x="1897" y="382" width="10" height="95" fill="#089981"/>
<rect x="1913" y="332" width="2" height="68" fill="#089981"/>
<rect x="1909" y="349" width="10" height="34" fill="#089981"/>
<rect x="1925" y="320" width="2" height="105" fill="#f23645"/>
<rect x="1921" y="349" width="10" height="49" fill="#f23645"/>
<rect x="1937" y="382" width="2" height="58" fill="#f23645"/>
<rect x="1933" y="397" width="10" height="36" fill="#f23645"/>
<rect x="1949" y="356" width="2" height="87" fill="#089981"/>
<rect x="1945" y="367" width="10" height="66" fill="#089981"/>
<rect x="1961" y="195" width="2" height="350" fill="#f23645"/>
<rect x="1957" y="367" width="10" height="133" fill="#f23645"/>
<rect x="1973" y="490" width="2" height="164" fill="#f23645"/>
<rect x="1969" y="499" width="10" height="87" fill="#f23645"/>
<rect x="1985" y="585" width="2" height="233" fill="#f23645"/>
<rect x="1981" y="585" width="10" height="219" fill="#f23645"/>
<rect x="1997" y="800" width="2" height="57" fill="#f23645"/>
<rect x="1993" y="803" width="10" height="34" fill="#f23645"/>
<rect x="2009" y="738" width="2" height="133" fill="#089981"/>
<rect x="2005" y="760" width="10" height="77" fill="#089981"/>
<rect x="2021" y="677" width="2" height="96" fill="#089981"/>
<rect x="2017" y="702" width="10" height="59" fill="#089981"/>
<rect x="2033" y="688" width="2" height="66" fill="#089981"/>
<rect x="2029" y="701" width="10" height="2" fill="#089981"/>
<rect x="2045" y="699" width="2" height="47" fill="#f23645"/>
<rect x="2041" y="702" width="10" height="31" fill="#f23645"/>
<rect x="2057" y="705" width="2" height="51" fill="#089981"/>
<rect x="2053" y="724" width="10" height="9" fill="#089981"/>
<rect x="2069" y="708" width="2" height="40" fill="#f23645"/>
<rect x="2065" y="724" width="10" height="24" fill="#f23645"/>
<rect x="2081" y="739" width="2" height="44" fill="#f23645"/>
<rect x="2077" y="747" width="10" height="32" fill="#f23645"/>
<rect x="2093" y="731" width="2" height="53" fill="#089981"/>
<rect x="2089" y="735" width="10" height="44" fill="#089981"/>
<rect x="2105" y="700" width="2" height="36" fill="#089981"/>
<rect x="2101" y="711" width="10" height="25" fill="#089981"/>
<rect x="2117" y="702" width="2" height="34" fill="#f23645"/>
<rect x="2113" y="711" width="10" height="22" fill="#f23645"/>
<rect x="2129" y="704" width="2" height="64" fill="#f23645"/>
<rect x="2125" y="732" width="10" height="28" fill="#f23645"/>
<rect x="2141" y="747" width="2" height="32" fill="#f23645"/>
<rect x="2137" y="760" width="10" height="15" fill="#f23645"/>
<rect x="2153" y="768" width="2" height="135" fill="#f23645"/>
<rect x="2149" y="774" width="10" height="123" fill="#f23645"/>
<rect x="2165" y="806" width="2" height="107" fill="#089981"/>
<rect x="2161" y="851" width="10" height="46" fill="#089981"/>
<rect x="2177" y="848" width="2" height="116" fill="#f23645"/>
<rect x="2173" y="851" width="10" height="91" fill="#f23645"/>
<rect x="2189" y="880" width="2" height="95" fill="#089981"/>
<rect x="2185" y="887" width="10" height="55" fill="#089981"/>
<rect x="2201" y="843" width="2" height="78" fill="#f23645"/>
<rect x="2197" y="887" width="10" height="23" fill="#f23645"/>
<rect x="2213" y="870" width="2" height="60" fill="#f23645"/>
<rect x="2209" y="908" width="10" height="2" fill="#f23645"/>
<rect x="2225" y="857" width="2" height="83" fill="#089981"/>
<rect x="2221" y="879" width="10" height="31" fill="#089981"/>
<rect x="2237" y="852" width="2" height="57" fill="#f23645"/>
<rect x="2233" y="879" width="10" height="12" fill="#f23645"/>
<rect x="2249" y="846" width="2" height="66" fill="#089981"/>
<rect x="2245" y="852" width="10" height="39" fill="#089981"/>
<rect x="2261" y="798" width="2" height="57" fill="#089981"/>
<rect x="2257" y="814" width="10" height="39" fill="#089981"/>
<rect x="2273" y="798" width="2" height="30" fill="#089981"/>
<rect x="2269" y="811" width="10" height="4" fill="#089981"/>
<rect x="2285" y="748" width="2" height="88" fill="#089981"/>
<rect x="2281" y="761" width="10" height="51" fill="#089981"/>
<rect x="2297" y="740" width="2" height="44" fill="#f23645"/>
<rect x="2293" y="761" width="10" height="19" fill="#f23645"/>
<rect x="2309" y="746" width="2" height="83" fill="#f23645"/>
<rect x="2305" y="779" width="10" height="38" fill="#f23645"/>
<rect x="2321" y="764" width="2" height="53" fill="#089981"/>
<rect x="2317" y="793" width="10" height="24" fill="#089981"/>
<rect x="2333" y="776" width="2" height="42" fill="#f23645"/>
<rect x="2329" y="793" width="10" height="11" fill="#f23645"/>
<rect x="2345" y="792" width="2" height="33" fill="#f23645"/>
<rect x="2341" y="803" width="10" height="12" fill="#f23645"/>
<rect x="2357" y="761" width="2" height="61" fill="#089981"/>
<rect x="2353" y="763" width="10" height="52" fill="#089981"/>
<rect x="2369" y="756" width="2" height="23" fill="#f23645"/>
<rect x="2365" y="763" width="10" height="16" fill="#f23645"/>
<rect x="2381" y="677" width="2" height="102" fill="#089981"/>
<rect x="2377" y="678" width="10" height="101" fill="#089981"/>
<rect x="2393" y="607" width="2" height="72" fill="#089981"/>
<rect x="2389" y="632" width="10" height="47" fill="#089981"/>
<rect x="2405" y="600" width="2" height="62" fill="#089981"/>
<rect x="2401" y="616" width="10" height="17" fill="#089981"/>
<rect x="2417" y="603" width="2" height="242" fill="#f23645"/>
<rect x="2413" y="616" width="10" height="214" fill="#f23645"/>
<rect x="2429" y="809" width="2" height="37" fill="#f23645"/>
<rect x="2425" y="830" width="10" height="15" fill="#f23645"/>
<line x1="20" y1="845" x2="2849" y2="845" stroke="#f23645" stroke-width="2" stroke-dasharray="2 4"/>
</g>
</svg>
<div class="box" style="left:2852px;top:828px;width:146px;height:34px;background:#f23645"></div>
<div class="box" style="left:2852px;top:1255px;width:70px;height:34px;background:#ef5350"></div>
<div class="tl">
<div class="t" style="left:19.60px;top:20.77px;font-size:24.6px;line-height:30px;color:#dcdcdc;letter-spacing:0.31px;font-weight:400;-webkit-text-stroke:0.4px currentColor;">Published on TradingView.com, Apr 04, 2025 11:07 UTC</div>
<div class="t" style="left:35.00px;top:74.85px;font-size:23.5px;line-height:30px;color:#c9c9c9;letter-spacing:0.62px;font-weight:400;-webkit-text-stroke:0.4px currentColor;">Bitcoin / TetherUS · 1h · Binance</div>
<div class="t" style="left:409.00px;top:74.85px;font-size:23.5px;line-height:30px;color:#c9c9c9;letter-spacing:0.0px;font-weight:400;-webkit-text-stroke:0.4px currentColor;">O</div>
<div class="t" style="left:427.80px;top:74.85px;font-size:23.5px;line-height:30px;color:#f23645;letter-spacing:0.9px;font-weight:400;-webkit-text-stroke:0.4px currentColor;">82,565.21</div>
<div class="t" style="left:552.60px;top:74.85px;font-size:23.5px;line-height:30px;color:#c9c9c9;letter-spacing:0.0px;font-weight:400;-webkit-text-stroke:0.4px currentColor;">H</div>
<div class="t" style="left:571.80px;top:74.85px;font-size:23.5px;line-height:30px;color:#f23645;letter-spacing:1.28px;font-weight:400;-webkit-text-stroke:0.4px currentColor;">82,768.09</div>
<div class="t" style="left:699.40px;top:74.85px;font-size:23.5px;line-height:30px;color:#c9c9c9;letter-spacing:0.0px;font-weight:400;-webkit-text-stroke:0.4px currentColor;">L</div>
<div class="t" style="left:714.50px;top:74.85px;font-size:23.5px;line-height:30px;color:#f23645;letter-spacing:1.54px;font-weight:400;-webkit-text-stroke:0.4px currentColor;">82,423.48</div>
<div class="t" style="left:845.20px;top:74.85px;font-size:23.5px;line-height:30px;color:#c9c9c9;letter-spacing:0.0px;font-weight:400;-webkit-text-stroke:0.4px currentColor;">C</div>
<div class="t" style="left:862.30px;top:74.85px;font-size:23.5px;line-height:30px;color:#f23645;letter-spacing:1.0px;font-weight:400;-webkit-text-stroke:0.4px currentColor;">82,431.82</div>
<div class="t" style="left:989.40px;top:74.85px;font-size:23.5px;line-height:30px;color:#f23645;letter-spacing:0.44px;font-weight:400;-webkit-text-stroke:0.4px currentColor;">−135.21 (−0.16%)</div>
<div class="t" style="left:37.00px;top:108.85px;font-size:23.5px;line-height:30px;color:#c9c9c9;letter-spacing:0.2px;font-weight:400;-webkit-text-stroke:0.4px currentColor;">Vol · BTC</div>
<div class="t" style="left:153.20px;top:108.85px;font-size:23.5px;line-height:30px;color:#ef5350;letter-spacing:0.3px;font-weight:400;-webkit-text-stroke:0.4px currentColor;">414</div>
<div class="t" style="left:2866.00px;top:124.98px;font-size:24px;line-height:30px;color:#cccccc;letter-spacing:1.5px;font-weight:400;">89,000.00</div>
<div class="t" style="left:2866.00px;top:231.98px;font-size:24px;line-height:30px;color:#cccccc;letter-spacing:1.5px;font-weight:400;">88,000.00</div>
<div class="t" style="left:2866.00px;top:338.98px;font-size:24px;line-height:30px;color:#cccccc;letter-spacing:1.5px;font-weight:400;">87,000.00</div>
<div class="t" style="left:2866.00px;top:445.98px;font-size:24px;line-height:30px;color:#cccccc;letter-spacing:1.5px;font-weight:400;">86,000.00</div>
<div class="t" style="left:2866.00px;top:552.98px;font-size:24px;line-height:30px;color:#cccccc;letter-spacing:1.5px;font-weight:400;">85,000.00</div>
<div class="t" style="left:2866.00px;top:659.98px;font-size:24px;line-height:30px;color:#cccccc;letter-spacing:1.5px;font-weight:400;">84,000.00</div>
<div class="t" style="left:2866.00px;top:766.98px;font-size:24px;line-height:30px;color:#cccccc;letter-spacing:1.5px;font-weight:400;">83,000.00</div>
<div class="t" style="left:2866.00px;top:873.98px;font-size:24px;line-height:30px;color:#cccccc;letter-spacing:1.5px;font-weight:400;">82,000.00</div>
<div class="t" style="left:2866.00px;top:980.98px;font-size:24px;line-height:30px;color:#cccccc;letter-spacing:1.5px;font-weight:400;">81,000.00</div>
<div class="t" style="left:2866.00px;top:1087.98px;font-size:24px;line-height:30px;color:#cccccc;letter-spacing:1.5px;font-weight:400;">80,000.00</div>
<div class="t" style="left:2866.00px;top:1194.98px;font-size:24px;line-height:30px;color:#cccccc;letter-spacing:1.5px;font-weight:400;">79,000.00</div>
<div class="t" style="left:104.15px;top:1304.68px;font-size:24px;line-height:30px;color:#cccccc;letter-spacing:1.68px;font-weight:400;">12:00</div>
<div class="t" style="left:267.66px;top:1304.68px;font-size:24px;line-height:30px;color:#cccccc;letter-spacing:1.68px;font-weight:400;">28</div>
<div class="t" style="left:392.15px;top:1304.68px;font-size:24px;line-height:30px;color:#cccccc;letter-spacing:1.68px;font-weight:400;">12:00</div>
<div class="t" style="left:555.66px;top:1304.68px;font-size:24px;line-height:30px;color:#cccccc;letter-spacing:1.68px;font-weight:400;">29</div>
<div class="t" style="left:680.15px;top:1304.68px;font-size:24px;line-height:30px;color:#cccccc;letter-spacing:1.68px;font-weight:400;">12:00</div>
<div class="t" style="left:843.66px;top:1304.68px;font-size:24px;line-height:30px;color:#cccccc;letter-spacing:1.68px;font-weight:400;">30</div>
<div class="t" style="left:968.15px;top:1304.68px;font-size:24px;line-height:30px;color:#cccccc;letter-spacing:1.68px;font-weight:400;">12:00</div>
<div class="t" style="left:1131.66px;top:1304.68px;font-size:24px;line-height:30px;color:#cccccc;letter-spacing:1.68px;font-weight:400;">31</div>
<div class="t" style="left:1256.15px;top:1304.68px;font-size:24px;line-height:30px;color:#cccccc;letter-spacing:1.68px;font-weight:400;">12:00</div>
<div class="t" style="left:1412.00px;top:1304.68px;font-size:24px;line-height:30px;color:#cccccc;letter-spacing:1.0px;font-weight:700;">Apr</div>
<div class="t" style="left:1544.15px;top:1304.68px;font-size:24px;line-height:30px;color:#cccccc;letter-spacing:1.68px;font-weight:400;">12:00</div>
<div class="t" style="left:1715.00px;top:1304.68px;font-size:24px;line-height:30px;color:#cccccc;letter-spacing:1.68px;font-weight:400;">2</div>
<div class="t" style="left:1832.15px;top:1304.68px;font-size:24px;line-height:30px;color:#cccccc;letter-spacing:1.68px;font-weight:400;">12:00</div>
<div class="t" style="left:2003.00px;top:1304.68px;font-size:24px;line-height:30px;color:#cccccc;letter-spacing:1.68px;font-weight:400;">3</div>
<div class="t" style="left:2120.15px;top:1304.68px;font-size:24px;line-height:30px;color:#cccccc;letter-spacing:1.68px;font-weight:400;">12:00</div>
<div class="t" style="left:2291.00px;top:1304.68px;font-size:24px;line-height:30px;color:#cccccc;letter-spacing:1.68px;font-weight:400;">4</div>
<div class="t" style="left:2408.15px;top:1304.68px;font-size:24px;line-height:30px;color:#cccccc;letter-spacing:1.68px;font-weight:400;">12:00</div>
<div class="t" style="left:2579.00px;top:1304.68px;font-size:24px;line-height:30px;color:#cccccc;letter-spacing:1.68px;font-weight:400;">5</div>
<div class="t" style="left:2696.15px;top:1304.68px;font-size:24px;line-height:30px;color:#cccccc;letter-spacing:1.68px;font-weight:400;">12:00</div>
<div class="t" style="left:2866.00px;top:827.58px;font-size:24px;line-height:30px;color:#ffffff;letter-spacing:1.5px;font-weight:400;">82,431.82</div>
<div class="t" style="left:2867.00px;top:1257.68px;font-size:24px;line-height:30px;color:#ffffff;letter-spacing:1.5px;font-weight:400;">414</div>
<svg width="40" height="21" viewBox="20 1370 40 21" style="left:20px;top:1370px">
<path d="M20 1370H35.6V1389.7H27.8V1378.1H20Z M51 1370H59.3L50.9 1389.7H42.4Z" fill="#dbdbdb"/>
<circle cx="42.2" cy="1374.6" r="4.3" fill="#dbdbdb"/></svg>
<div class="t" style="left:67.00px;top:1364.91px;font-size:26.5px;line-height:30px;color:#e0e0e0;letter-spacing:0.05px;font-weight:400;-webkit-text-stroke:0.6px #e0e0e0;">TradingView</div>
</div>
</body></html>
